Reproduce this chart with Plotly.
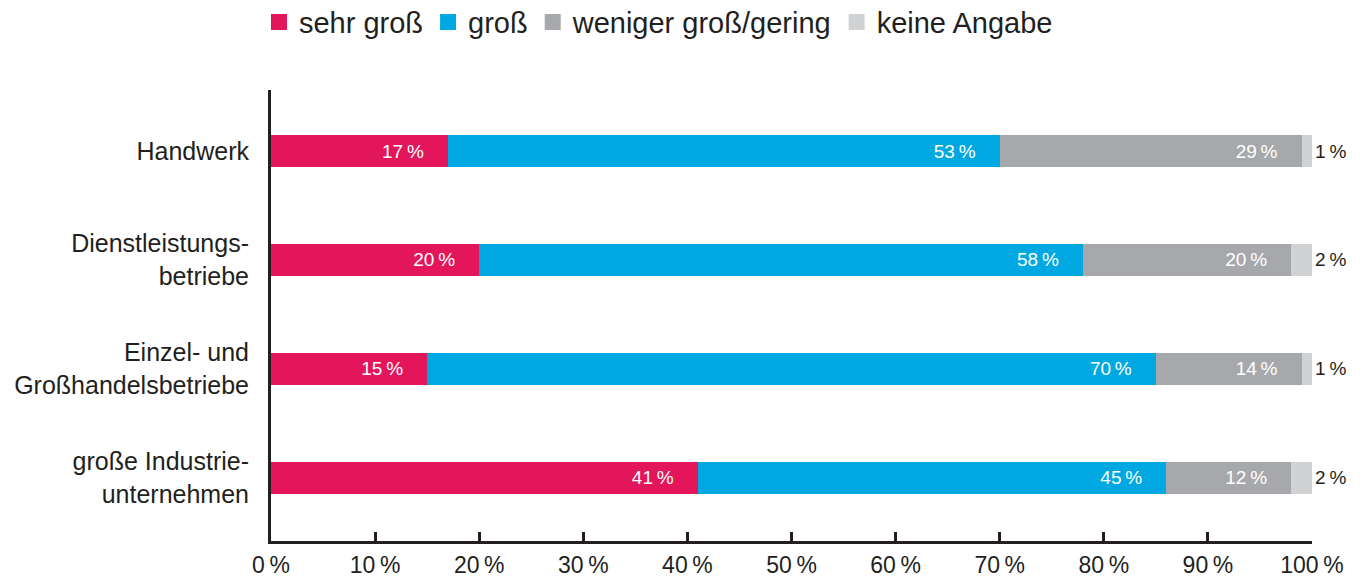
import plotly.graph_objects as go

categories = ["Handwerk", "Dienstleistungs-<br>betriebe", "Einzel- und<br>Großhandelsbetriebe", "große Industrie-<br>unternehmen"]
series_names = ["sehr groß", "groß", "weniger groß/gering", "keine Angabe"]
sehr_gross = [17, 20, 15, 41]
gross = [53, 58, 70, 45]
weniger = [29, 20, 14, 12]
keine = [1, 2, 1, 2]
tick_vals = [0, 10, 20, 30, 40, 50, 60, 70, 80, 90, 100]
tick_text = [f"{v}\u2009%" for v in tick_vals]

colors = ["#E3165B", "#00A8E1", "#A7A8AB", "#D1D2D4"]
dark = "#231F20"
FONT = "Liberation Sans"

fig = go.Figure()
pad = "\u00a0" * 4
for name, vals, col in zip(series_names, [sehr_gross, gross, weniger, keine], colors):
    last = name == "keine Angabe"
    labels = [f"{v}\u2009%" + ("" if last else pad) for v in vals]
    fig.add_trace(go.Bar(
        y=categories, x=vals, name=name, orientation="h",
        marker=dict(color=col, line=dict(width=0)),
        width=0.29,
        text=labels, texttemplate="%{text}",
        textposition="outside" if last else "inside",
        insidetextanchor="end",
        textfont=dict(family=FONT, size=19, color=dark if last else "white"),
        cliponaxis=False,
        hoverinfo="skip",
        showlegend=False,
    ))
# legend entries with larger square swatches
for name, col in zip(series_names, colors):
    fig.add_trace(go.Scatter(
        x=[None], y=[None], mode="markers", name=name,
        marker=dict(symbol="square", size=18, color=col, line=dict(width=0)),
        hoverinfo="skip",
    ))

fig.update_layout(
    barmode="stack",
    width=1363, height=580,
    margin=dict(l=271, r=51, t=90, b=39),
    paper_bgcolor="white", plot_bgcolor="white",
    font=dict(family=FONT, size=23, color=dark),
    legend=dict(orientation="h", xref="container", yref="container",
                x=0.19, xanchor="left", y=0.962, yanchor="middle",
                font=dict(family=FONT, size=29, color=dark), traceorder="normal",
                itemwidth=30, tracegroupgap=0),
    showlegend=True,
)
fig.update_xaxes(
    range=[0, 100], tickvals=tick_vals, ticktext=tick_text,
    ticks="inside", ticklen=9, tickwidth=2.5, tickcolor=dark,
    showline=True, linecolor=dark, linewidth=3, showgrid=False, zeroline=False,
    tickfont=dict(family=FONT, size=23, color=dark), automargin=False,
    ticklabelstandoff=1,
)
fig.update_yaxes(
    categoryorder="array", categoryarray=categories,
    range=[3.58, -0.56], showline=True, linecolor=dark, linewidth=3,
    showgrid=False, zeroline=False, ticks="", ticklabelstandoff=14,
    tickfont=dict(family=FONT, size=25, color=dark), automargin=False,
)
fig.write_html("out.html")
